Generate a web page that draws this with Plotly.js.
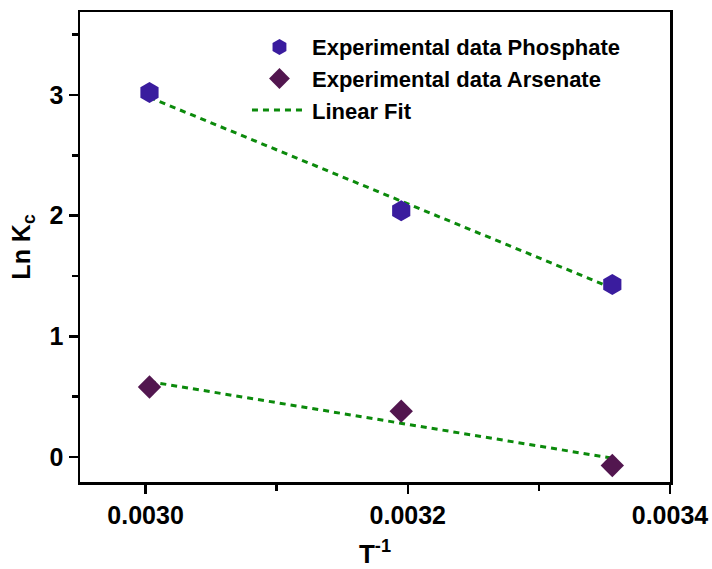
<!DOCTYPE html>
<html>
<head>
<meta charset="utf-8">
<script src="https://cdn.plot.ly/plotly-3.0.1.min.js"></script>
<style>html,body{margin:0;padding:0;background:#fff;}#chart{width:712px;height:569px;}</style>
</head>
<body>
<div id="chart"></div>
<script>
// Data
const invT = [0.003003, 0.003195, 0.003356];
const lnKcPhosphate = [3.02, 2.04, 1.43];
const lnKcArsenate = [0.58, 0.38, -0.07];
const fitX = [0.003003, 0.003356];
const fitPhosphate = [2.98, 1.40];
const fitArsenate = [0.625, -0.01];
const xTickVals = [0.0030, 0.0032, 0.0034];
const xTickText = ["0.0030", "0.0032", "0.0034"];
const yTickVals = [0, 1, 2, 3];

const FONT = "Arial, 'Liberation Sans', Helvetica, sans-serif";
const fitColor = "#0b8a0b";

const traces = [
  {
    x: fitX, y: fitPhosphate, mode: "lines", name: "Linear Fit",
    line: {color: fitColor, width: 3, dash: "6px,5px"}, legendrank: 3
  },
  {
    x: fitX, y: fitArsenate, mode: "lines", name: "Linear Fit", showlegend: false,
    line: {color: fitColor, width: 3, dash: "6px,5px"}
  },
  {
    x: invT, y: lnKcPhosphate, mode: "markers", name: "Experimental data Phosphate",
    marker: {symbol: "hexagon", size: 21, color: "#3a1c9e"}, legendrank: 1
  },
  {
    x: invT, y: lnKcArsenate, mode: "markers", name: "Experimental data Arsenate",
    marker: {symbol: "diamond", size: 18, color: "#52164f"}, legendrank: 2
  }
];

const axisCommon = {
  showline: true, linecolor: "#000", linewidth: 2.5, mirror: true,
  ticks: "outside", ticklen: 9, tickwidth: 2.5, tickcolor: "#000",
  showgrid: false, zeroline: false,
  tickfont: {family: FONT, size: 25, color: "#000", weight: "bold"}
};

const layout = {
  width: 712, height: 569,
  margin: {l: 80, r: 42, t: 12, b: 87},
  paper_bgcolor: "#fff", plot_bgcolor: "#fff",
  showlegend: true,
  legend: {
    x: 0.283, y: 0.97, xanchor: "left", yanchor: "top",
    bgcolor: "rgba(0,0,0,0)", itemwidth: 55,
    font: {family: FONT, size: 22, color: "#000", weight: "bold"},
    traceorder: "normal"
  },
  xaxis: Object.assign({}, axisCommon, {
    range: [0.00295, 0.0034],
    tickvals: xTickVals, ticktext: xTickText,
    ticklabelstandoff: 0,
    minor: {dtick: 0.0001, tick0: 0.0030, ticks: "outside", ticklen: 6, tickwidth: 2.5, tickcolor: "#000"},
    title: {text: "T<sup>-1</sup>", standoff: 30, font: {family: FONT, size: 26, color: "#000", weight: "bold"}}
  }),
  yaxis: Object.assign({}, axisCommon, {
    range: [-0.207, 3.688],
    tickvals: yTickVals,
    minor: {dtick: 0.5, tick0: 0, ticks: "outside", ticklen: 6, tickwidth: 2.5, tickcolor: "#000"},
    title: {text: "Ln K<sub>c</sub>", standoff: 12, font: {family: FONT, size: 25, color: "#000", weight: "bold"}}
  })
};

Plotly.newPlot("chart", traces, layout, {displayModeBar: false, staticPlot: true});
</script>
</body>
</html>
